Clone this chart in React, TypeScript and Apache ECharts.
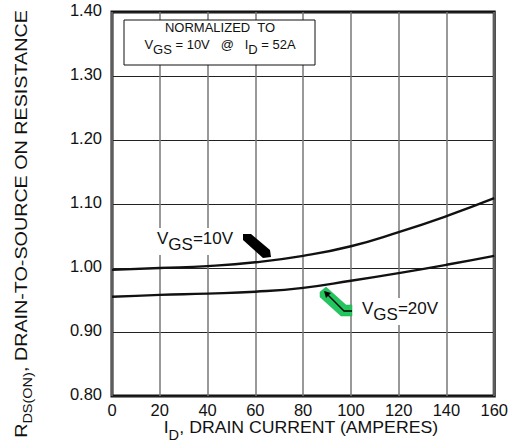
import React, { useEffect, useRef } from 'react';
import * as echarts from 'echarts';

// Data
const drainCurrent = [0, 20, 40, 60, 80, 100, 120, 140, 160];
const rdsVgs10 = [0.997, 1.0, 1.003, 1.009, 1.019, 1.034, 1.056, 1.081, 1.109];
const rdsVgs20 = [0.955, 0.958, 0.96, 0.963, 0.969, 0.98, 0.992, 1.005, 1.019];
const seriesNames = ['VGS=10V', 'VGS=20V'];

const FONT = 'Liberation Sans';

const main = (size: number) => ({ fontSize: size, fontFamily: FONT, fill: '#111', verticalAlign: 'top' as const });
const sub = (size: number, shift: number) => ({
  fontSize: size,
  fontFamily: FONT,
  fill: '#111',
  verticalAlign: 'top' as const,
  padding: [shift, 0, 0, 0],
});

export default function App() {
  const ref = useRef<HTMLDivElement>(null);
  useEffect(() => {
    const chart = echarts.init(ref.current!, null, { renderer: 'svg' });
    chart.setOption({
      animation: false,
      backgroundColor: '#fff',
      grid: {
        left: 112,
        right: 15,
        top: 12,
        bottom: 50,
        show: true,
        borderColor: '#111',
        borderWidth: 3,
        backgroundColor: 'transparent',
      },
      xAxis: {
        type: 'value',
        min: 0,
        max: 160,
        interval: 20,
        axisLine: { show: false },
        axisTick: { show: false },
        axisLabel: { color: '#111', fontSize: 16.5, fontFamily: FONT, margin: 5 },
        splitLine: { show: true, lineStyle: { color: '#777', width: 1.5 } },
      },
      yAxis: {
        type: 'value',
        min: 0.8,
        max: 1.4,
        interval: 0.1,
        axisLine: { show: false },
        axisTick: { show: false },
        axisLabel: {
          color: '#111',
          fontSize: 16.5,
          fontFamily: FONT,
          margin: 10,
          verticalAlign: 'bottom',
          lineHeight: 18,
          padding: [0, 0, -7, 0],
          formatter: (v: number) => v.toFixed(2),
        },
        splitLine: { show: true, lineStyle: { color: '#222', width: 1 } },
      },
      series: [
        {
          name: seriesNames[0],
          type: 'line',
          smooth: true,
          showSymbol: false,
          lineStyle: { color: '#111', width: 2.4 },
          data: drainCurrent.map((x, i) => [x, rdsVgs10[i]]),
          z: 3,
        },
        {
          name: seriesNames[1],
          type: 'line',
          smooth: true,
          showSymbol: false,
          lineStyle: { color: '#111', width: 2.4 },
          data: drainCurrent.map((x, i) => [x, rdsVgs20[i]]),
          z: 3,
        },
      ],
      graphic: [
        {
          type: 'rect',
          z: 10,
          shape: { x: 124, y: 20, width: 191, height: 45 },
          style: { fill: '#fff', stroke: '#111', lineWidth: 1 },
        },
        {
          type: 'text',
          z: 11,
          x: 220,
          y: 21,
          style: {
            text: 'NORMALIZED  TO',
            fontSize: 13,
            fontFamily: FONT,
            fill: '#111',
            align: 'center',
            verticalAlign: 'top',
          },
        },
        {
          type: 'text',
          z: 11,
          x: 220,
          y: 38,
          style: {
            text: '{m|V}{s|GS}{m| = 10V   @   I}{s|D}{m| = 52A}',
            align: 'center',
            verticalAlign: 'top',
            rich: { m: main(13), s: sub(13, 5) },
          },
        },
        {
          type: 'text',
          z: 11,
          x: 155,
          y: 228,
          style: {
            text: '{m|V}{s|GS}{m|=10V}',
            align: 'left',
            verticalAlign: 'top',
            backgroundColor: '#fff',
            padding: [2, 2, 2, 2],
            rich: { m: main(17), s: sub(17, 6) },
          },
        },
        {
          type: 'text',
          z: 11,
          x: 360,
          y: 298,
          style: {
            text: '{m|V}{s|GS}{m|=20V}',
            align: 'left',
            verticalAlign: 'top',
            backgroundColor: '#fff',
            padding: [2, 2, 2, 2],
            rich: { m: main(17), s: sub(17, 6) },
          },
        },
        {
          type: 'polygon',
          z: 11,
          shape: {
            points: [
              [243, 234],
              [251, 234],
              [270, 250],
              [271, 257],
              [263, 258],
              [243, 240],
            ],
          },
          style: { fill: '#000' },
        },
        {
          type: 'polygon',
          z: 11,
          shape: {
            points: [
              [320, 292],
              [326, 287],
              [346, 305],
              [352, 305],
              [352, 316],
              [341, 316],
              [320, 297],
            ],
          },
          style: { fill: '#22c55e', stroke: '#1aa84a', lineWidth: 0.5 },
        },
        {
          type: 'polyline',
          z: 12,
          shape: {
            points: [
              [352, 311],
              [344, 311],
              [327, 294],
            ],
          },
          style: { stroke: '#000', lineWidth: 1.3, fill: null },
        },
        {
          type: 'polygon',
          z: 12,
          shape: {
            points: [
              [324, 291],
              [331, 293],
              [326, 298],
            ],
          },
          style: { fill: '#000' },
        },
        {
          type: 'text',
          z: 11,
          x: 12,
          y: 224,
          rotation: Math.PI / 2,
          scaleX: 1.16,
          style: {
            text: '{m|R}{s|DS(ON)}{m|, DRAIN-TO-SOURCE ON RESISTANCE}',
            align: 'center',
            verticalAlign: 'top',
            rich: { m: main(17), s: sub(12.5, 9) },
          },
        },
        {
          type: 'text',
          z: 11,
          x: 301,
          y: 419,
          scaleX: 1.04,
          style: {
            text: '{m|I}{s|D}{m|, DRAIN CURRENT (AMPERES)}',
            align: 'center',
            verticalAlign: 'top',
            rich: { m: main(17), s: sub(14, 9) },
          },
        },
      ],
    });
    return () => chart.dispose();
  }, []);
  return <div ref={ref} style={{ position: 'fixed', left: 0, top: 0, width: 511, height: 446 }} />;
}
